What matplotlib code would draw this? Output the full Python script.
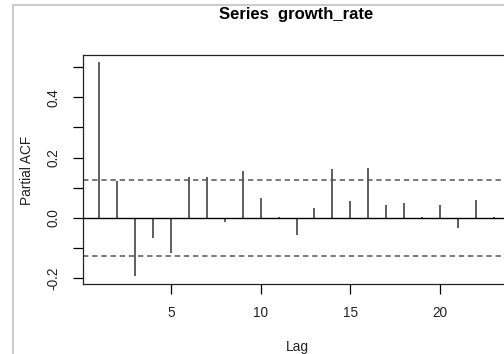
import matplotlib.pyplot as plt
from matplotlib.patches import Rectangle

plt.rcParams['font.family'] = ['Liberation Sans', 'DejaVu Sans']

lags = list(range(1, 24))
pacf = [0.517, 0.122, -0.191, -0.067, -0.117, 0.136, 0.136, -0.014, 0.156, 0.065,
        0.004, -0.058, 0.034, 0.162, 0.056, 0.166, 0.044, 0.050, 0.003, 0.043,
        -0.034, 0.060, 0.003]
ci = 0.125
xticks = [5, 10, 15, 20]
yticks = [-0.2, -0.1, 0.0, 0.1, 0.2, 0.3, 0.4, 0.5]
ylabels = ['-0.2', '', '0.0', '', '0.2', '', '0.4', '']

fig = plt.figure(figsize=(5.04, 3.54), dpi=100)
# plot region runs off the right edge, like the cropped screenshot
ax = fig.add_axes([83 / 504, 1 - 284 / 354, 445 / 504, 229 / 354])

ax.vlines(lags, 0, pacf, color='#333333', lw=1.1)
ax.axhline(0, color='black', lw=1)
ax.axhline(ci, color='#555555', lw=1.1, ls=(0, (3.5, 2.5)))
ax.axhline(-ci, color='#555555', lw=1.1, ls=(0, (3.5, 2.5)))

ax.set_xlim(0.08, 24.92)
ax.set_ylim(-0.219, 0.54)
ax.set_xticks(xticks)
ax.set_xticklabels([str(t) for t in xticks], fontsize=9.8, color='#222222')
ax.set_yticks(yticks)
ax.set_yticklabels(ylabels, fontsize=9.8, rotation=90, va='center', color='#222222')
ax.tick_params(direction='out', length=7, width=0.9, pad=9)
for s in ax.spines.values():
    s.set_linewidth(0.9)
    s.set_color('#222222')

fig.text(296 / 504, 1 - 15 / 354, 'Series  growth_rate', ha='center', va='center',
         fontsize=12, fontweight='bold')
fig.text(297 / 504, 1 - 347 / 354, 'Lag', ha='center', va='center', fontsize=9.8,
         color='#222222')
fig.text(27 / 504, 1 - 170 / 354, 'Partial ACF', ha='center', va='center',
         rotation=90, fontsize=9.8, color='#222222')

# light frame from the screenshot
fig.add_artist(Rectangle((13 / 504, -0.1), 1.2, 1.1 - 5 / 354, transform=fig.transFigure,
                         fill=False, ec='#cccccc', lw=1.5))

fig.savefig('out.png', dpi=100)
